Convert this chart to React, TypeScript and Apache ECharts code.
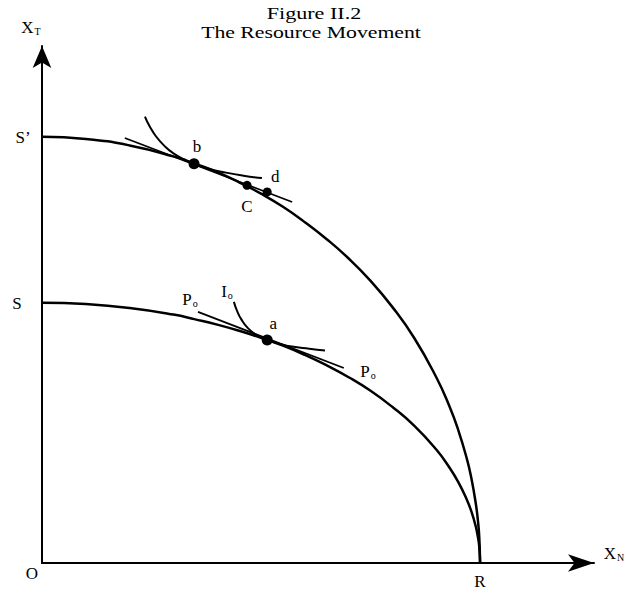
import React, { useEffect, useRef } from "react";
import * as echarts from "echarts";

// Production possibility frontiers (X_N on the x axis, X_T on the y axis)
const outerFrontier: number[][] = [
  [0, 97.3], [10, 96.8], [20, 95.3], [30, 92.8], [35, 91.1], [40, 89.2], [45, 86.9],
  [50, 84.3], [55, 81.3], [60, 77.8], [65, 73.9], [70, 69.5], [75, 64.4], [80, 58.4],
  [85, 51.3], [90, 42.4], [93, 35.8], [95, 30.4], [97, 23.7], [98, 19.4], [99, 13.7],
  [99.5, 9.7], [99.8, 6.1], [100, 0],
];
const innerFrontier: number[][] = [
  [0, 59.4], [10, 59.1], [20, 58.2], [30, 56.7], [35, 55.6], [40, 54.4], [45, 53.0],
  [50, 51.4], [55, 49.6], [60, 47.5], [65, 45.1], [70, 42.4], [75, 39.3], [80, 35.6],
  [85, 31.3], [90, 25.9], [93, 21.8], [95, 18.5], [97, 14.4], [98, 11.8], [99, 8.4],
  [99.5, 5.9], [99.8, 3.8], [100, 0],
];
// Price lines
const upperPriceLine: number[][] = [[18.9, 97.0], [57.1, 82.4]];
const lowerPriceLine: number[][] = [[35.6, 57.3], [68.9, 44.5]];
// Indifference curves
const upperIndifference: number[][] = [
  [23.5, 101.9], [24.5, 99.8], [26, 97.4], [28, 95.15], [30, 93.5], [32.5, 92.1],
  [34.7, 91.1], [38, 90.0], [42, 89.1], [46, 88.4], [50.2, 87.85],
];
const lowerIndifference: number[][] = [
  [43.8, 59.6], [44.5, 57.6], [45.5, 55.6], [47, 53.6], [49, 52.0], [51.4, 50.9],
  [54, 50.1], [57, 49.4], [61, 48.9], [64.6, 48.5],
];
// Labelled points
const pointNames = ["b", "C", "d", "a"];
const pointValues: number[][] = [[34.7, 91.1], [46.8, 86.2], [51.4, 84.7], [51.4, 50.9]];
const pointSizes = [11, 9, 9, 11];
const labelOffsets: number[][] = [[3, -17], [0, 21], [8, -15], [6, -16]];

const SERIF = "'Liberation Serif', 'DejaVu Serif', serif";

export default function App() {
  const ref = useRef<HTMLDivElement>(null);
  useEffect(() => {
    if (!ref.current) return;
    const chart = echarts.init(ref.current, undefined, { renderer: "svg" });
    const mkLine = (name: string, data: number[][], w: number, smooth: boolean) => ({
      name,
      type: "line",
      data,
      smooth,
      showSymbol: false,
      symbol: "none",
      lineStyle: { color: "#000", width: w },
      z: 3,
    });
    const rich = {
      m: { fontFamily: SERIF, fontSize: 17, color: "#000" },
      s: { fontFamily: SERIF, fontSize: 10, color: "#000", padding: [8, 0, 0, 1] },
    };
    const txt = (x: number, y: number, text: string) => ({
      type: "text",
      x,
      y,
      style: {
        text,
        fontFamily: SERIF,
        fontSize: 17,
        fill: "#000",
        align: "center",
        verticalAlign: "middle",
        rich,
      },
    });
    chart.setOption({
      animation: false,
      backgroundColor: "#fff",
      grid: { left: 42, right: 36, top: 46, bottom: 28, containLabel: false },
      xAxis: {
        type: "value",
        min: 0,
        max: 126,
        axisLine: {
          show: true,
          symbol: ["none", "arrow"],
          symbolSize: [13, 26],
          lineStyle: { color: "#000", width: 2 },
        },
        axisTick: { show: false },
        axisLabel: { show: false },
        splitLine: { show: false },
      },
      yAxis: {
        type: "value",
        min: 0,
        max: 118,
        axisLine: {
          show: true,
          symbol: ["none", "arrow"],
          symbolSize: [14, 22],
          lineStyle: { color: "#000", width: 2 },
        },
        axisTick: { show: false },
        axisLabel: { show: false },
        splitLine: { show: false },
      },
      series: [
        mkLine("outer frontier", outerFrontier, 2.5, true),
        mkLine("inner frontier", innerFrontier, 2.5, true),
        mkLine("upper price line", upperPriceLine, 1.8, false),
        mkLine("lower price line", lowerPriceLine, 1.8, false),
        mkLine("upper indifference", upperIndifference, 2, true),
        mkLine("lower indifference", lowerIndifference, 2, true),
        {
          name: "points",
          type: "scatter",
          z: 5,
          data: pointValues.map((v, i) => ({
            value: v,
            name: pointNames[i],
            symbolSize: pointSizes[i],
            label: {
              show: true,
              formatter: pointNames[i],
              position: "inside",
              offset: labelOffsets[i],
              fontFamily: SERIF,
              fontSize: 17,
              color: "#000",
            },
          })),
          itemStyle: { color: "#000", opacity: 1 },
        },
      ],
      graphic: [
        {
          type: "text",
          x: 314,
          y: 14,
          scaleX: 1.38,
          style: {
            text: "Figure II.2",
            fontFamily: SERIF,
            fontSize: 16,
            fill: "#000",
            align: "center",
            verticalAlign: "middle",
          },
        },
        {
          type: "text",
          x: 311,
          y: 33,
          scaleX: 1.36,
          style: {
            text: "The Resource Movement",
            fontFamily: SERIF,
            fontSize: 16,
            fill: "#000",
            align: "center",
            verticalAlign: "middle",
          },
        },
        txt(31, 27, "{m|X}{s|T}"),
        txt(614, 553, "{m|X}{s|N}"),
        txt(23, 137, "S’"),
        txt(17, 303, "S"),
        txt(32, 573, "O"),
        txt(480, 581, "R"),
        txt(190, 299, "{m|P}{s|o}"),
        txt(227, 291, "{m|I}{s|o}"),
        txt(368, 371, "{m|P}{s|o}"),
      ],
    });
    return () => chart.dispose();
  }, []);
  return (
    <div
      ref={ref}
      style={{ position: "fixed", left: 0, top: 0, width: 630, height: 591, background: "#fff" }}
    />
  );
}
